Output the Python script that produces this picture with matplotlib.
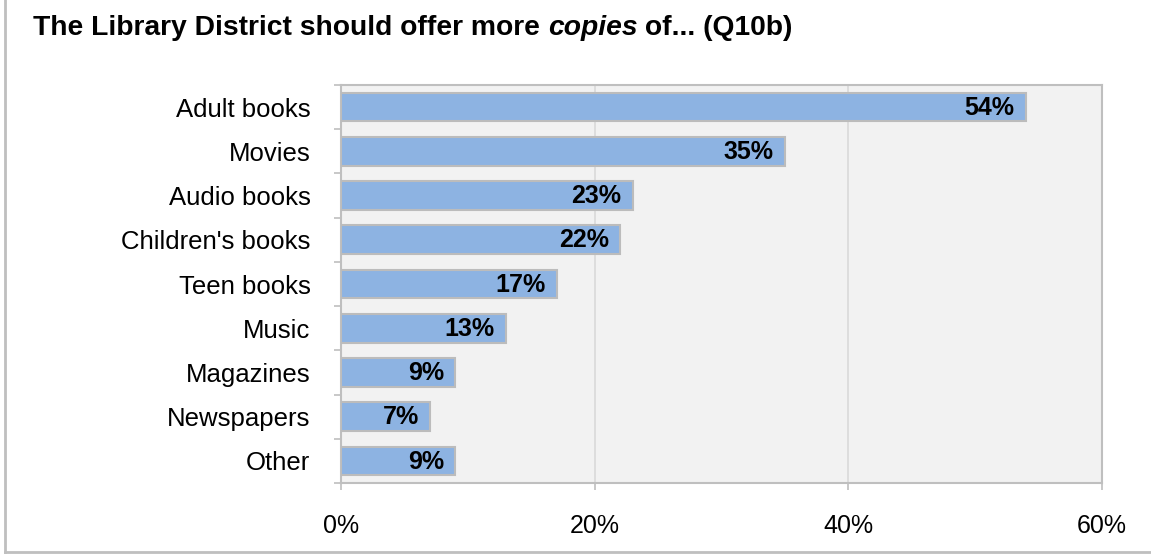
import matplotlib.pyplot as plt
from matplotlib.lines import Line2D

plt.rcParams['font.family'] = ['Liberation Sans', 'DejaVu Sans']

categories = ["Adult books", "Movies", "Audio books", "Children's books", "Teen books",
              "Music", "Magazines", "Newspapers", "Other"]
values = [54, 35, 23, 22, 17, 13, 9, 7, 9]
x_ticks = [0, 20, 40, 60]
x_tick_labels = ["0%", "20%", "40%", "60%"]

bar_color = "#8DB3E2"
edge_color = "#BCBCBC"
axis_color = "#BFBFBF"
grid_color = "#D9D9D9"
label_size = 18

fig = plt.figure(figsize=(11.51, 5.54), dpi=100)
ax = fig.add_axes([341 / 1151, 1 - 483 / 554, (1102 - 341) / 1151, (483 - 85) / 554])
ax.set_facecolor("#F2F2F2")

ypos = list(range(len(categories)))
bars = ax.barh(ypos, values, height=0.65, color=bar_color, edgecolor=edge_color,
               linewidth=1.5, zorder=3)
ax.set_ylim(len(categories) - 0.5, -0.5)
ax.set_xlim(0, 60)

# value labels inside the bar ends
for b, v in zip(bars, values):
    ax.annotate(f"{v}%", xy=(v, b.get_y() + b.get_height() / 2), xytext=(-8, -0.5),
                textcoords="offset points", ha="right", va="center",
                fontsize=label_size, fontweight="bold", zorder=4)

ax.set_xticks(x_ticks)
ax.set_xticklabels(x_tick_labels)
ax.xaxis.grid(True, color=grid_color, linewidth=1.2, zorder=0)
ax.set_axisbelow(True)

# ticks on category boundaries, labels centred on bars
ax.set_yticks([i + 0.5 for i in range(-1, len(categories))])
ax.set_yticklabels([])
ax.set_yticks(ypos, minor=True)
ax.set_yticklabels(categories, minor=True)
ax.tick_params(axis="y", which="minor", length=0, pad=22, labelsize=18.5)
ax.tick_params(axis="y", which="major", length=5, width=1.2, color=axis_color)
ax.tick_params(axis="x", length=5, width=1.2, color=axis_color, pad=17, labelsize=label_size)

for side in ["left", "bottom", "top", "right"]:
    ax.spines[side].set_color(axis_color)
    ax.spines[side].set_linewidth(1.5)

# title with the italic word in the middle
title_y = 1 - 28 / 554
fig.canvas.draw()
renderer = fig.canvas.get_renderer()
x = 33
for part, style in [("The Library District should offer more ", "normal"),
                    ("copies", "italic"), (" of... (Q10b)", "normal")]:
    t = fig.text(x / 1151, title_y, part, fontsize=20.3, fontweight="bold", style=style,
                 va="center", ha="left")
    x = t.get_window_extent(renderer).x1

# outer frame
fig.add_artist(Line2D([5 / 1151, 5 / 1151], [0, 1], color="#BFBFBF", linewidth=2,
                      transform=fig.transFigure))
fig.add_artist(Line2D([5 / 1151, 1], [1 - 552 / 554, 1 - 552 / 554], color="#BFBFBF",
                      linewidth=2, transform=fig.transFigure))

fig.savefig("out.png", dpi=100)
